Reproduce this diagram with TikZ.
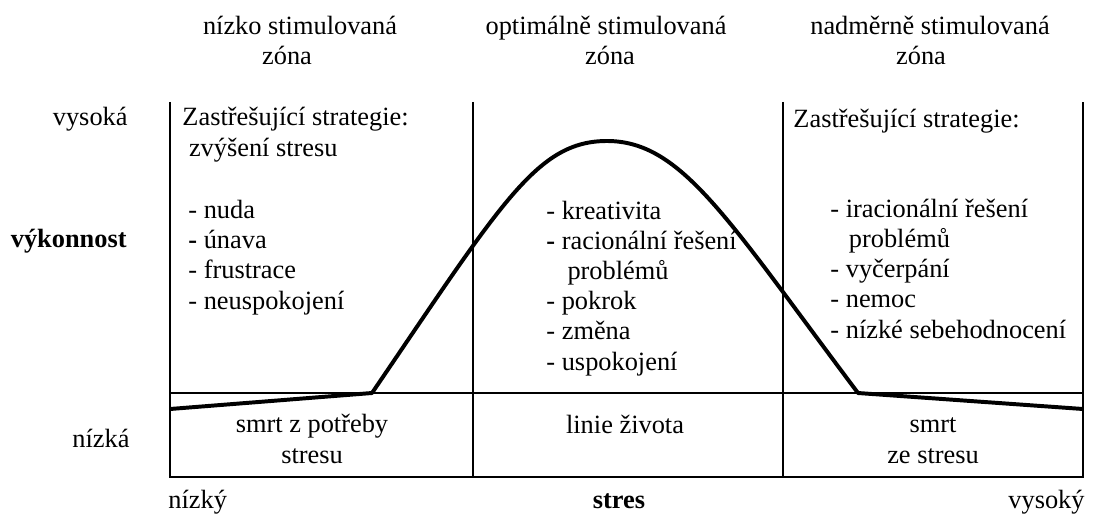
\documentclass[tikz,border=0pt]{standalone}
\usepackage{fontspec}
\setmainfont{Liberation Serif}
\begin{document}
\begin{tikzpicture}[
        font=\fontsize{12}{13.7}\selectfont,
        frame/.style={line width=0.9pt},
        curve/.style={line width=1.8pt, line join=round},
        heading/.style={inner sep=0pt, anchor=base, align=center},
        entry/.style={inner sep=0pt, anchor=base west, align=left},
        axis/.style={inner sep=0pt}
    ]
        \useasboundingbox (0,0) rectangle (17.68,8.48);

        % Corners of the zones
        \coordinate (tl) at (2.72,6.848);
        \coordinate (t1) at (7.568,6.848);
        \coordinate (t2) at (12.528,6.848);
        \coordinate (tr) at (17.328,6.848);
        \coordinate (bl) at (2.72,0.848);
        \coordinate (b1) at (7.568,0.848);
        \coordinate (b2) at (12.528,0.848);
        \coordinate (br) at (17.328,0.848);
        \coordinate (ml) at (2.72,2.192);
        \coordinate (mr) at (17.328,2.192);

        % Zone borders and life line
        \draw[frame] (tl) -- (bl) -- (br) -- (tr);
        \draw[frame] (t1) -- (b1);
        \draw[frame] (t2) -- (b2);
        \draw[frame] (ml) -- (mr);

        % Performance curve
        \coordinate (cstart) at (2.72,1.936);
        \coordinate (kneel) at (5.952,2.192);
        \coordinate (peak) at (9.712,6.224);
        \coordinate (kneer) at (13.728,2.192);
        \coordinate (cend) at (17.328,1.936);
        \draw[curve] (cstart) -- (kneel)
            .. controls (8.032,5.248) and (8.592,6.224) .. (peak)
            .. controls (10.912,6.224) and (11.648,4.96) .. (kneer)
            -- (cend);

        % Zone headings (base = last line)
        \node[heading] (hdrlow) at (4.8,7.44) {nízko stimulovaná\\zóna\hspace*{0.416cm}};
        \node[heading] (hdropt) at (9.696,7.44) {optimálně stimulovaná\\\hspace*{0.128cm}zóna};
        \node[heading] (hdrover) at (14.88,7.44) {nadměrně stimulovaná\\zóna\hspace*{0.288cm}};

        % Vertical axis
        \node[axis, anchor=base east] (high) at (2.048,6.48) {vysoká};
        \node[axis, anchor=base east, font=\fontsize{12}{13.7}\selectfont\bfseries] (perf) at (2.032,4.528) {výkonnost};
        \node[axis, anchor=base east] (low) at (2.08,1.328) {nízká};

        % Low stimulated zone
        \node[entry] (stratlow) at (2.912,5.984) {Zastřešující strategie:\\\ zvýšení stresu};
        \node[entry] (listlow) at (3.008,3.536) {- nuda\\\textbf{-} únava\\- frustrace\\- neuspokojení};

        % Optimal zone
        \node[entry] (listopt) at (8.736,2.56) {- kreativita\\\textbf{-} racionální řešení\\\hspace*{0.8em}problémů\\- pokrok\\- změna\\- uspokojení};

        % Over stimulated zone
        \node[entry] (stratover) at (12.688,6.448) {Zastřešující strategie:};
        \node[entry] (listover) at (13.28,3.072) {- iracionální řešení\\\hspace*{0.7em}problémů\\- vyčerpání\\- nemoc\\- nízké sebehodnocení};

        % Below the life line
        \node[heading] (deathlow) at (4.992,1.072) {smrt z potřeby\\stresu};
        \node[heading] (lifeline) at (10.0,1.55) {linie života};
        \node[heading] (deathover) at (14.928,1.072) {smrt\\ze stresu};

        % Horizontal axis
        \node[axis, anchor=base west] (xlow) at (2.688,0.352) {nízký};
        \node[axis, anchor=base, font=\fontsize{12}{13.7}\selectfont\bfseries] (xlabel) at (9.904,0.352) {stres};
        \node[axis, anchor=base east] (xhigh) at (17.36,0.352) {vysoký};

    \end{tikzpicture}
\end{document}
